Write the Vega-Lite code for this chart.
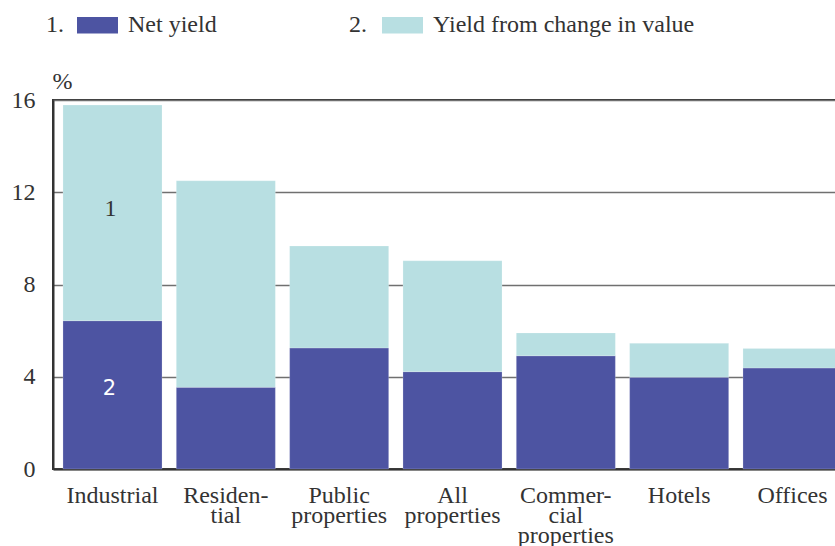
{
  "$schema": "https://vega.github.io/schema/vega-lite/v6.json",
  "autosize": {"type": "none"},
  "padding": {"left": 53, "top": 100, "right": 0, "bottom": 77},
  "width": 799,
  "height": 369,
  "background": "white",
  "config": {
    "font": "Liberation Serif",
    "view": {"stroke": "#333333", "strokeWidth": 2},
    "legend": {"padding": 0}
  },
  "datasets": {
    "bars": [
      {"cat": "Industrial", "series": "Net yield", "num": "1.", "ord": 1, "value": 6.43},
      {"cat": "Industrial", "series": "Yield from change in value", "num": "2.", "ord": 2, "value": 9.35},
      {"cat": "Residen-|tial", "series": "Net yield", "num": "1.", "ord": 1, "value": 3.54},
      {"cat": "Residen-|tial", "series": "Yield from change in value", "num": "2.", "ord": 2, "value": 8.96},
      {"cat": "Public|properties", "series": "Net yield", "num": "1.", "ord": 1, "value": 5.25},
      {"cat": "Public|properties", "series": "Yield from change in value", "num": "2.", "ord": 2, "value": 4.42},
      {"cat": "All|properties", "series": "Net yield", "num": "1.", "ord": 1, "value": 4.22},
      {"cat": "All|properties", "series": "Yield from change in value", "num": "2.", "ord": 2, "value": 4.81},
      {"cat": "Commer-|cial|properties", "series": "Net yield", "num": "1.", "ord": 1, "value": 4.91},
      {"cat": "Commer-|cial|properties", "series": "Yield from change in value", "num": "2.", "ord": 2, "value": 0.99},
      {"cat": "Hotels", "series": "Net yield", "num": "1.", "ord": 1, "value": 3.98},
      {"cat": "Hotels", "series": "Yield from change in value", "num": "2.", "ord": 2, "value": 1.47},
      {"cat": "Offices", "series": "Net yield", "num": "1.", "ord": 1, "value": 4.38},
      {"cat": "Offices", "series": "Yield from change in value", "num": "2.", "ord": 2, "value": 0.85}
    ],
    "marks1": [{"cat": "Industrial", "y": 11.27, "label": "1"}],
    "marks2": [{"cat": "Industrial", "y": 3.47, "label": "2"}]
  },
  "encoding": {
    "x": {
      "field": "cat",
      "type": "nominal",
      "sort": null,
      "scale": {
        "domain": ["Industrial", "Residen-|tial", "Public|properties", "All|properties", "Commer-|cial|properties", "Hotels", "Offices"],
        "paddingInner": 0.126,
        "paddingOuter": 0.088
      },
      "axis": {
        "title": null,
        "labelAngle": 0,
        "labelExpr": "split(datum.label, '|')",
        "labelFont": "Liberation Serif",
        "labelFontSize": 24,
        "labelColor": "#333333",
        "labelLineHeight": 20,
        "labelBaseline": "top",
        "labelPadding": 14,
        "labelOverlap": false,
        "ticks": false,
        "domainColor": "#333333",
        "domainWidth": 2,
        "grid": false
      }
    }
  },
  "layer": [
    {
      "data": {"name": "bars"},
      "mark": {"type": "bar", "stroke": "white", "strokeWidth": 0.5, "strokeOpacity": 0.4},
      "encoding": {
        "y": {
          "field": "value",
          "type": "quantitative",
          "stack": "zero",
          "scale": {"domain": [0, 16], "nice": false},
          "axis": {
            "values": [0, 4, 8, 12, 16],
            "title": "%",
            "titleAngle": 0,
            "titleAlign": "left",
            "titleBaseline": "alphabetic",
            "titleX": -1,
            "titleY": -12,
            "titleFont": "Liberation Serif",
            "titleFontSize": 24,
            "titleFontWeight": "normal",
            "titleColor": "#333333",
            "labelFont": "Liberation Serif",
            "labelFontSize": 24,
            "labelColor": "#333333",
            "labelPadding": 18,
            "ticks": false,
            "domainColor": "#333333",
            "domainWidth": 2,
            "grid": true,
            "gridColor": "#707070",
            "gridWidth": 1.5
          }
        },
        "order": {"field": "ord", "type": "quantitative", "sort": "ascending"},
        "color": {
          "field": "series",
          "type": "nominal",
          "scale": {"domain": ["Net yield", "Yield from change in value"], "range": ["#4d54a2", "#b8dfe2"]},
          "legend": {
            "title": null,
            "orient": "none",
            "legendX": 24,
            "legendY": -95.5,
            "direction": "horizontal",
            "columns": 2,
            "columnPadding": 165,
            "symbolType": "M-1,-0.4H1V0.4H-1Z",
            "symbolSize": 1681,
            "symbolStrokeWidth": 0,
            "labelFont": "Liberation Serif",
            "labelFontSize": 24,
            "labelColor": "#333333",
            "labelOffset": 10,
            "labelLimit": 400
          }
        },
        "opacity": {
          "field": "num",
          "type": "nominal",
          "scale": {"domain": ["1.", "2."], "range": [1, 1]},
          "legend": {
            "title": null,
            "orient": "none",
            "legendX": -48,
            "legendY": -95.5,
            "direction": "horizontal",
            "columns": 2,
            "columnPadding": 244,
            "symbolType": "M-1,-0.4H1V0.4H-1Z",
            "symbolSize": 1681,
            "symbolOpacity": 0,
            "symbolFillColor": "transparent",
            "symbolStrokeColor": "transparent",
            "symbolStrokeWidth": 0,
            "labelFont": "Liberation Serif",
            "labelFontSize": 24,
            "labelColor": "#333333",
            "labelOffset": 0,
            "encode": {"symbols": {"update": {"opacity": {"value": 0}, "fillOpacity": {"value": 0}, "fill": {"value": "transparent"}}}}
          }
        }
      }
    },
    {
      "data": {"name": "marks1"},
      "mark": {"type": "text", "font": "Liberation Serif", "fontSize": 24, "color": "#333333", "baseline": "middle", "align": "center", "dx": -2},
      "encoding": {
        "y": {"field": "y", "type": "quantitative"},
        "text": {"field": "label"}
      }
    },
    {
      "data": {"name": "marks2"},
      "mark": {"type": "text", "font": "DejaVu Sans", "fontSize": 21, "color": "white", "baseline": "middle", "align": "center", "dx": -3},
      "encoding": {
        "y": {"field": "y", "type": "quantitative"},
        "text": {"field": "label"}
      }
    }
  ]
}
